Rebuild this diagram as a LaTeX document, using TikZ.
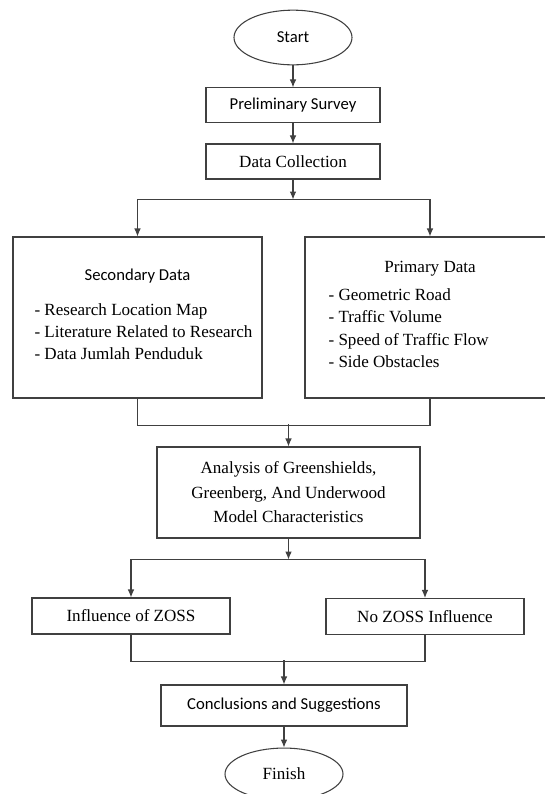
\documentclass[tikz,border=0pt]{standalone}
\usepackage{fontspec}
\setmainfont{Liberation Serif}
\newfontfamily\calibri{Carlito}
\usepackage{tikz}
\usetikzlibrary{arrows.meta, positioning, shapes.geometric}
\usepackage{xcolor}
\definecolor{linegray}{HTML}{404040}
\renewcommand{\arraystretch}{1.08}

\begin{document}
\begin{tikzpicture}[
x=0.75pt, y=-0.75pt,
font=\fontsize{12.8pt}{15.4pt}\selectfont,
box/.style={draw=linegray,
line width=0.8pt,
rectangle,
inner sep=2pt,
align=center},
terminal/.style={draw=linegray,
line width=0.8pt,
ellipse,
minimum width=88.5pt},
arrow/.style={-{Latex[length=6pt, width=5pt]}, draw=linegray, line width=0.8pt},
link/.style={draw=linegray, line width=0.8pt}
]
\useasboundingbox (0,0) rectangle (544,794);

\node[terminal, minimum height=41pt] (start) at (293,37.5) {\calibri\fontsize{12.5pt}{15pt}\selectfont Start};
\node[box, minimum width=130.5pt, minimum height=26.25pt, below=16.5pt of start] (survey) {\calibri\fontsize{12.5pt}{15pt}\selectfont Preliminary Survey};
\node[box, minimum width=130.5pt, minimum height=26.25pt, below=15pt of survey] (collect) {Data Collection};

\node[box, minimum width=186.75pt, minimum height=120.75pt] (secondary) at (137.5,317.5) {{\calibri\fontsize{12.5pt}{15pt}\selectfont Secondary Data}\\[10.8pt]\begin{tabular}[t]{@{\hspace{9pt}}l@{}}- Research Location Map\\- Literature Related to Research\\- Data Jumlah Penduduk\end{tabular}};
\node[box, minimum width=187.5pt, minimum height=120.75pt] (primary) at (430,317.5) {Primary Data\\[5.8pt]\begin{tabular}[t]{@{}l@{\hspace{32pt}}}- Geometric Road\\- Traffic Volume\\- Speed of Traffic Flow\\- Side Obstacles\end{tabular}};

\node[box, minimum width=197.25pt, minimum height=68.25pt, font=\fontsize{12.8pt}{18.4pt}\selectfont] (analysis) at (288.5,492.5) {Analysis of Greenshields,\\Greenberg, And Underwood\\Model Characteristics};

\node[box, minimum width=148.5pt, minimum height=27pt] (zoss) at (131,616) {Influence of ZOSS};
\node[box, minimum width=148.5pt, minimum height=27pt] (nozoss) at (425,616.5) {No ZOSS Influence};

\node[box, minimum width=184.5pt, minimum height=30.75pt] (concl) at (284,705.5) {\calibri\fontsize{12.5pt}{15pt}\selectfont Conclusions and Suggestions};
\node[terminal, minimum height=39pt, below=15.75pt of concl] (finish) {Finish};

\draw[arrow] (start) -- (survey);
\draw[arrow] (survey) -- (collect);
\draw[arrow] (collect.south) -- ++(0,20) coordinate (fork1);
\draw[arrow] (fork1) -| (secondary.north);
\draw[arrow] (fork1) -| (primary.north);

\draw[link] (secondary.south) -- ++(0,27) -| (primary.south);
\path (analysis.north) ++(0,-22) coordinate (join1);
\draw[arrow] (join1) -- (analysis);

\draw[arrow] (analysis.south) -- ++(0,21) coordinate (fork2);
\draw[arrow] (fork2) -| (zoss.north);
\draw[arrow] (fork2) -| (nozoss.north);

\draw[link] (zoss.south) -- ++(0,27) -| (nozoss.south);
\path (concl.north) ++(0,-24) coordinate (join2);
\draw[arrow] (join2) -- (concl);
\draw[arrow] (concl) -- (finish);

\end{tikzpicture}
\end{document}
